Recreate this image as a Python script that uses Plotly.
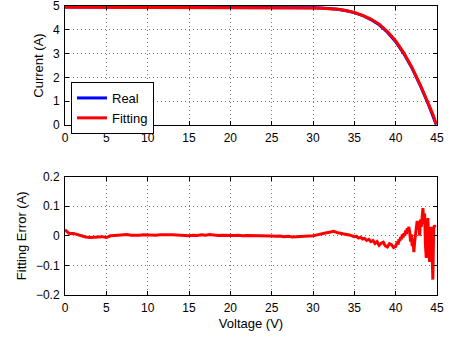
import plotly.graph_objects as go

# ---- data ----
v_iv = [0, 5, 10, 15, 20, 25, 28, 30, 31, 32, 33, 34, 35, 36, 37, 38, 39, 40,
        41, 42, 43, 44, 44.5, 44.9]
i_real = [4.96, 4.96, 4.96, 4.95, 4.95, 4.95, 4.94, 4.93, 4.92, 4.90, 4.86, 4.80,
          4.72, 4.60, 4.43, 4.21, 3.90, 3.50, 2.99, 2.37, 1.64, 0.83, 0.42, 0.02]
i_fit = [4.95, 4.95, 4.95, 4.95, 4.94, 4.94, 4.93, 4.92, 4.91, 4.89, 4.86, 4.81,
         4.73, 4.61, 4.45, 4.24, 3.93, 3.53, 3.02, 2.40, 1.67, 0.86, 0.45, 0.04]

v_err = [0, 0.5, 1, 1.5, 2, 2.5, 3, 3.5, 4, 4.5, 5, 5.5, 6, 6.5, 7, 7.5, 8, 8.5,
         9, 9.5, 10, 10.5, 11, 11.5, 12, 12.5, 13, 13.5, 14, 14.5, 15, 15.5, 16,
         16.5, 17, 17.5, 18, 18.5, 19, 19.5, 20, 20.5, 21, 21.5, 22, 22.5, 23,
         23.5, 24, 24.5, 25, 25.5, 26, 26.5, 27, 27.5, 28, 28.5, 29, 29.5, 30,
         30.5, 31, 31.5, 32, 32.5, 33, 33.5, 34, 34.5, 35, 35.25, 35.5, 35.75,
         36, 36.25, 36.5, 36.75, 37, 37.25, 37.5, 37.75, 38, 38.25, 38.5, 38.75,
         39, 39.25, 39.5, 39.75,
         40.0, 40.1, 40.2, 40.3, 40.4, 40.5, 40.6, 40.7, 40.8, 40.9, 41.0, 41.1,
         41.2, 41.3, 41.4, 41.5, 41.6, 41.7, 41.8, 41.9, 42.0, 42.1, 42.2, 42.3,
         42.4, 42.5, 42.6, 42.7, 42.8, 42.9, 43.0, 43.1, 43.2, 43.3, 43.4, 43.5,
         43.6, 43.7, 43.8, 43.9, 44.0, 44.1, 44.2, 44.3, 44.4, 44.5, 44.6, 44.7,
         44.8]
err = [0.020, 0.008, 0.008, 0.003, 0.000, -0.004, -0.006, -0.005, -0.004, -0.003,
       -0.006, 0.000, 0.001, 0.002, 0.001, 0.004, 0.002, 0.001, 0.002, 0.003,
       0.002, 0.003, 0.002, 0.003, 0.002, 0.003, 0.003, 0.002, 0.003, 0.001,
       0.000, 0.002, 0.001, 0.003, 0.002, 0.004, 0.002, 0.001, 0.002, 0.001,
       0.001, 0.001, 0.002, 0.000, 0.001, 0.001, 0.000, 0.001, -0.001, 0.000,
       -0.001, -0.002, -0.001, -0.003, -0.002, -0.004, -0.003, -0.002, -0.001,
       -0.002, 0.000,
       0.003, 0.005, 0.009, 0.012, 0.015, 0.010, 0.008, 0.005, 0.002, -0.003,
       -0.002, -0.008, -0.005, -0.011, -0.009, -0.016, -0.012, -0.020, -0.016,
       -0.026, -0.020, -0.032, -0.025, -0.022, -0.034, -0.038, -0.027, -0.030,
       -0.040,
       -0.036, -0.028, -0.020, -0.030, -0.012, -0.018, -0.004, -0.012, 0.004,
       -0.006, 0.008, 0.000, 0.018, 0.006, 0.025, 0.015, 0.030, 0.012, -0.020,
       0.005, -0.035, -0.010, -0.055, -0.020, 0.010, 0.040, 0.050, 0.020, 0.045,
       0.000, 0.055, 0.030, 0.070, 0.093, 0.040, 0.075, -0.030, -0.075, 0.020,
       0.060, -0.040, -0.088, -0.030, 0.030, -0.060, -0.148, 0.025, 0.035, 0.030]

x_ticks = [0, 5, 10, 15, 20, 25, 30, 35, 40, 45]
y1_ticks = [0, 1, 2, 3, 4, 5]
y2_ticks = [-0.2, -0.1, 0, 0.1, 0.2]
y2_labels = ["\u22120.2", "\u22120.1", "0", "0.1", "0.2"]

W, H = 450, 339
FONT = "Liberation Sans, Arial, sans-serif"

fig = go.Figure()
fig.add_trace(go.Scatter(x=v_iv, y=i_real, mode="lines", name="Real",
                         line=dict(color="#0000ff", width=3), xaxis="x", yaxis="y"))
fig.add_trace(go.Scatter(x=v_iv, y=i_fit, mode="lines", name="Fitting",
                         line=dict(color="#ff0000", width=3), xaxis="x", yaxis="y"))
fig.add_trace(go.Scatter(x=v_err, y=err, mode="lines", name="Error", showlegend=False,
                         line=dict(color="#ff0000", width=3), xaxis="x2", yaxis="y2"))

axis_common = dict(showline=True, linecolor="black", linewidth=1, mirror="ticks",
                   ticks="inside", ticklen=4, tickcolor="black",
                   showgrid=True, gridcolor="#777777", griddash="1px,3px", gridwidth=1,
                   zeroline=False, tickfont=dict(size=12, color="black", family=FONT),
                   ticklabelstandoff=2, automargin=False, ticklabeloverflow="allow")

xdom = [65 / W, 437 / W]
fig.update_layout(
    width=W, height=H,
    margin=dict(l=0, r=0, t=0, b=0),
    paper_bgcolor="white", plot_bgcolor="white",
    font=dict(family=FONT, size=13, color="black"),
    xaxis=dict(domain=xdom, range=[0, 45], tickvals=x_ticks, anchor="y", **axis_common),
    yaxis=dict(domain=[1 - 125 / H, 1 - 6 / H], range=[0, 5], tickvals=y1_ticks,
               anchor="x",
               title=dict(text="Current (A)", font=dict(size=13), standoff=6),
               **axis_common),
    xaxis2=dict(domain=xdom, range=[0, 45], tickvals=x_ticks, anchor="y2",
                title=dict(text="Voltage (V)", font=dict(size=13), standoff=4),
                **axis_common),
    yaxis2=dict(domain=[1 - 295 / H, 1 - 176.5 / H], range=[-0.2, 0.2],
                tickvals=y2_ticks, ticktext=y2_labels, anchor="x2",
                title=dict(text="Fitting Error (A)", font=dict(size=13), standoff=6),
                **axis_common),
    legend=dict(x=71 / W, y=1 - 82 / H, xanchor="left", yanchor="top",
                bgcolor="white", bordercolor="black", borderwidth=1,
                font=dict(size=13, color="black"), itemwidth=30,
                tracegroupgap=0),
    showlegend=True,
)

fig.write_html("out.html")
